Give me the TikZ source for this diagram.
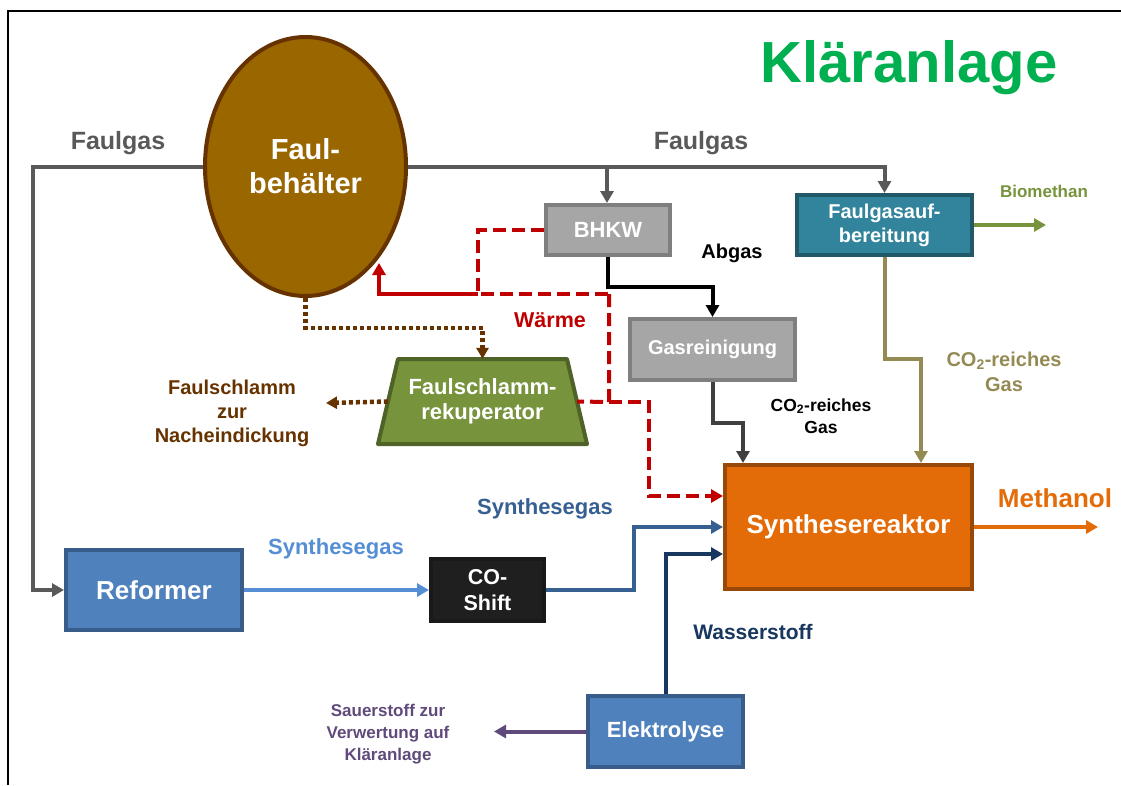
\documentclass[tikz,border=0pt]{standalone}
\usepackage{fontspec}
\setmainfont{Liberation Sans}
\usetikzlibrary{arrows.meta,shapes.geometric,calc}
\definecolor{faulfill}{HTML}{996600}
\definecolor{faulline}{HTML}{663300}
\definecolor{grayfill}{HTML}{A6A6A6}
\definecolor{grayline}{HTML}{7F7F7F}
\definecolor{tealfill}{HTML}{31849B}
\definecolor{tealline}{HTML}{215968}
\definecolor{orfill}{HTML}{E36C09}
\definecolor{orline}{HTML}{984807}
\definecolor{bluefill}{HTML}{4F81BD}
\definecolor{blueline}{HTML}{385D8A}
\definecolor{grfill}{HTML}{77933C}
\definecolor{grline}{HTML}{4F6228}
\definecolor{gasgray}{HTML}{595959}
\definecolor{olive}{HTML}{948A54}
\definecolor{heatred}{HTML}{C00000}
\definecolor{sludge}{HTML}{663300}
\definecolor{oxy}{HTML}{604A7B}
\definecolor{hyd}{HTML}{17375E}
\definecolor{syndark}{HTML}{366092}
\definecolor{synlight}{HTML}{558ED5}
\definecolor{titlegreen}{HTML}{00B050}
\definecolor{bioolive}{HTML}{77933C}
\definecolor{darkline}{HTML}{404040}
\newcommand\fs[2]{\fontsize{#1pt}{#2pt}\selectfont\bfseries}
\begin{document}
\begin{tikzpicture}[x=1pt,y=-1pt,
  box/.style={draw, line width=4pt, inner sep=0pt, align=center, text=white},
  lbl/.style={inner sep=0pt, align=center},
  tip/.style={-{Triangle[length=12pt,width=13pt]}},
  flow/.style={line width=4pt, tip},
  heat/.style={line width=4pt, color=heatred, dash pattern=on 13pt off 6pt},
  sl/.style={line width=4.5pt, color=sludge, dash pattern=on 4pt off 3pt}
]
\useasboundingbox (0,0) rectangle (1121,785);
\draw[line width=2.5pt] (8,785) -- (8,11) -- (1121,11);

% trapezoid body of the recuperator
\filldraw[draw=grline, fill=grfill, line width=4pt, line join=round] (398,359) -- (567,359) -- (587,444) -- (378,444) -- cycle;

% nodes
\node[ellipse, draw=faulline, fill=faulfill, line width=4pt, minimum width=201pt, minimum height=259pt, inner sep=0pt, text=white, align=center, font=\fs{29}{34}] (fb) at (305.5,166.5) {Faul-\\behälter};
\node[box, draw=grayline, fill=grayfill, minimum width=124pt, minimum height=50pt, font=\fs{22}{25}] (bhkw) at (608,230) {BHKW};
\node[box, draw=tealline, fill=tealfill, minimum width=175pt, minimum height=60pt, font=\fs{20}{24}] (fga) at (884.5,225) {Faulgasauf-\\bereitung};
\node[box, draw=grayline, fill=grayfill, minimum width=165pt, minimum height=61pt, font=\fs{20}{24}] (gr) at (712.5,349.5) {Gasreinigung};
\node[box, draw=orline, fill=orfill, minimum width=247pt, minimum height=124pt, font=\fs{26}{30}] (sr) at (848.5,527) {Synthesereaktor};
\node[box, draw=blueline, fill=bluefill, minimum width=176pt, minimum height=80pt, font=\fs{26}{30}] (ref) at (154,590) {Reformer};
\node[box, draw=black!90, fill=black!88, minimum width=113pt, minimum height=62pt, font=\fs{21.5}{26}] (cos) at (487.5,590) {CO-\\Shift};
\node[box, draw=blueline, fill=bluefill, minimum width=155pt, minimum height=71pt, font=\fs{22}{26}] (el) at (665.5,731.5) {Elektrolyse};
\node[inner sep=0pt, minimum width=189pt, minimum height=85pt, text=white, align=center, font=\fs{22}{25}] (rek) at (482.5,401.5) {Faulschlamm-\\rekuperator};

% labels
\node[lbl, text=titlegreen, font=\fs{58}{60}] (title) at (909,68) {Kläranlage};
\node[lbl, text=gasgray, font=\fs{25}{28}] (fgl) at (118,143) {Faulgas};
\node[lbl, text=gasgray, font=\fs{25}{28}] (fgr) at (701,143) {Faulgas};
\node[lbl, text=bioolive, font=\fs{17}{20}] (bio) at (1044,191) {Biomethan};
\node[lbl, text=black, font=\fs{20}{24}] (abg) at (732,253) {Abgas};
\node[lbl, text=heatred, font=\fs{21.5}{25}] (warm) at (550,320) {Wärme};
\node[lbl, text=olive, font=\fs{20}{25}] (co2a) at (1004,372) {CO\textsubscript{2}-reiches\\Gas};
\node[lbl, text=black, font=\fs{17.5}{22}] (co2b) at (821,416) {CO\textsubscript{2}-reiches\\Gas};
\node[lbl, text=orfill, font=\fs{26}{30}] (meth) at (1055,498) {Methanol};
\node[lbl, text=syndark, font=\fs{22}{26}] (syn2) at (545,509) {Synthesegas};
\node[lbl, text=synlight, font=\fs{22}{26}] (syn1) at (336,549) {Synthesegas};
\node[lbl, text=hyd, font=\fs{21}{25}] (wass) at (753,632) {Wasserstoff};
\node[lbl, text=sludge, font=\fs{20}{24}] (nach) at (232,413) {Faulschlamm\\zur\\Nacheindickung};
\node[lbl, text=oxy, font=\fs{17}{22}] (sauer) at (388,734) {Sauerstoff zur\\Verwertung auf\\Kläranlage};

% free ends and corners
\coordinate (bio end) at (1046,224);
\coordinate (meth end) at (1098,527);
\coordinate (sauer end) at (494,734);
\coordinate (nach end) at (326,403);
\coordinate (fbheat) at (379,263);
\coordinate (split) at (607,167);
\coordinate (c2) at (921,359);
\coordinate (c1) at (743,423);
\coordinate (hj) at (609,294);
\coordinate (hk) at (609,402);

% Faulgas
\draw[flow, gasgray] (fb.west) -- (33,166.5) |- (ref.west);
\draw[flow, gasgray] (fb.east) -| (fga.north);
\draw[flow, gasgray] (split) -- (split |- bhkw.north);
% Abgas
\draw[flow, black] (bhkw.south) |- (712.5,287) -- (gr.north);
% CO2 from Gasreinigung
\draw[flow, darkline] (gr.south) |- (c1) -- (c1 |- sr.north);
% CO2 from Faulgasaufbereitung
\draw[flow, olive] (fga.south) |- (c2) -- (c2 |- sr.north);
% Biomethan
\draw[flow, bioolive] (fga.east) -- (fga.east -| bio end);
% Methanol
\draw[flow, orfill] (sr.east) -- (sr.east -| meth end);
% Synthesegas
\draw[flow, synlight] (ref.east) -- (cos.west);
\draw[flow, syndark] (cos.east) -- (634,590) |- (sr.west);
% Wasserstoff
\draw[flow, hyd] (el.north) |- ($(sr.west)+(0,27)$);
% Sauerstoff
\draw[flow, oxy] (el.west) -- (el.west -| sauer end);
% Heat
\draw[heat] (bhkw.west) -| (478,294) -- (hj);
\draw[heat, dash pattern=, tip] (478,294) -- (379,294) -- (fbheat);
\draw[heat] (hj) -- (hk) -- (rek.east);
\draw[heat, tip] (hk) -- (649,402) |- ($(sr.west)+(0,-31)$);
% Sludge
\draw[sl, -{Triangle[length=11pt,width=12pt]}] (fb.south) |- (482.5,328) -- (rek.north);
\draw[sl, -{Triangle[length=11pt,width=12pt]}] (rek.west) -- (nach end);
\end{tikzpicture}
\end{document}
